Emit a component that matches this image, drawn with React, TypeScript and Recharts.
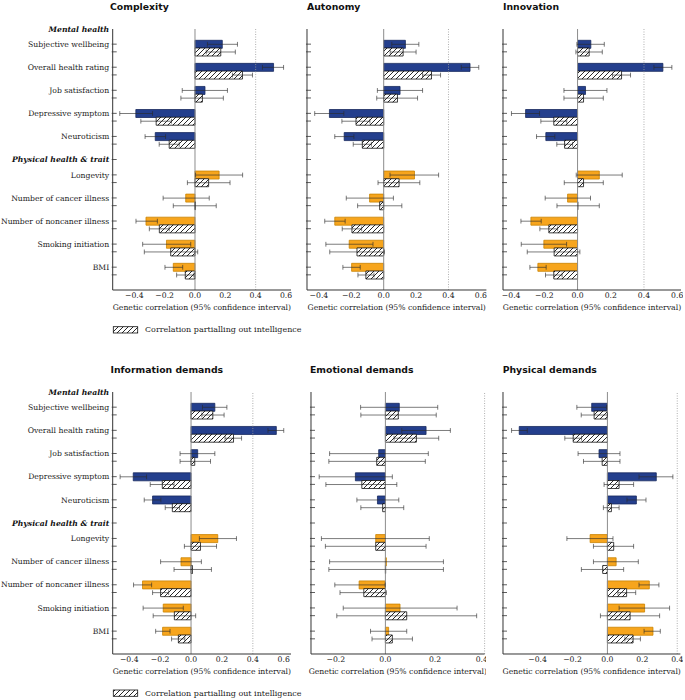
import React from 'react';
import { BarChart, Bar, XAxis, YAxis, Cell, ErrorBar, ReferenceLine } from 'recharts';

const categories = [
  'Subjective wellbeing',
  'Overall health rating',
  'Job satisfaction',
  'Depressive symptom',
  'Neuroticism',
  'Longevity',
  'Number of cancer illness',
  'Number of noncaner illness',
  'Smoking initiation',
  'BMI',
];
const groupHeaders = ['Mental health', 'Physical health & trait'];
const panelTitles = ['Complexity', 'Autonomy', 'Innovation', 'Information demands', 'Emotional demands', 'Physical demands'];
const xLabel = 'Genetic correlation (95% confidence interval)';
const legendLabel = 'Correlation partialling out intelligence';

const ticksWide = [-0.4, -0.2, 0, 0.2, 0.4, 0.6];
const ticksEmotional = [-0.2, 0, 0.2, 0.4];
const ticksPhysical = [-0.4, -0.2, 0, 0.2, 0.4];

// Complexity
const complexityRg = [0.18, 0.518, 0.066, -0.39, -0.262, 0.159, -0.061, -0.323, -0.188, -0.143];
const complexityCI = [[0.082, 0.28], [0.445, 0.584], [-0.084, 0.214], [-0.496, -0.28], [-0.329, -0.194], [0.004, 0.314], [-0.21, 0.094], [-0.389, -0.248], [-0.345, -0.028], [-0.198, -0.081]];
const complexityPartialRg = [0.17, 0.313, 0.049, -0.256, -0.17, 0.09, 0.002, -0.235, -0.16, -0.064];
const complexityPartialCI = [[0.074, 0.266], [0.247, 0.379], [-0.093, 0.187], [-0.357, -0.155], [-0.236, -0.104], [-0.05, 0.231], [-0.143, 0.14], [-0.301, -0.17], [-0.334, 0.018], [-0.121, -0.007]];

// Autonomy
const autonomyRg = [0.134, 0.533, 0.101, -0.335, -0.244, 0.19, -0.087, -0.302, -0.213, -0.198];
const autonomyCI = [[0.05, 0.217], [0.479, 0.587], [-0.039, 0.24], [-0.426, -0.246], [-0.302, -0.184], [0.039, 0.339], [-0.231, 0.06], [-0.364, -0.238], [-0.357, -0.066], [-0.252, -0.145]];
const autonomyPartialRg = [0.12, 0.295, 0.085, -0.171, -0.132, 0.095, -0.025, -0.196, -0.165, -0.11];
const autonomyPartialCI = [[0.04, 0.2], [0.24, 0.351], [-0.043, 0.209], [-0.258, -0.085], [-0.188, -0.076], [-0.035, 0.223], [-0.161, 0.112], [-0.256, -0.136], [-0.333, 0.004], [-0.159, -0.06]];

// Innovation
const innovationRg = [0.08, 0.514, 0.048, -0.313, -0.191, 0.131, -0.06, -0.281, -0.203, -0.239];
const innovationCI = [[-0.004, 0.161], [0.46, 0.568], [-0.082, 0.177], [-0.398, -0.229], [-0.247, -0.137], [-0.008, 0.269], [-0.195, 0.078], [-0.341, -0.219], [-0.339, -0.066], [-0.287, -0.189]];
const innovationPartialRg = [0.07, 0.265, 0.036, -0.143, -0.078, 0.036, 0.002, -0.173, -0.141, -0.143];
const innovationPartialCI = [[-0.01, 0.149], [0.21, 0.319], [-0.082, 0.155], [-0.221, -0.065], [-0.125, -0.03], [-0.08, 0.155], [-0.124, 0.131], [-0.227, -0.12], [-0.303, 0.014], [-0.193, -0.093]];

// Information demands
const informationRg = [0.154, 0.552, 0.043, -0.374, -0.249, 0.173, -0.065, -0.314, -0.18, -0.184];
const informationCI = [[0.074, 0.232], [0.498, 0.6], [-0.071, 0.154], [-0.459, -0.288], [-0.303, -0.195], [0.054, 0.294], [-0.197, 0.067], [-0.372, -0.255], [-0.31, -0.05], [-0.229, -0.136]];
const informationPartialRg = [0.141, 0.275, 0.024, -0.186, -0.121, 0.061, 0.009, -0.197, -0.108, -0.082];
const informationPartialCI = [[0.07, 0.214], [0.22, 0.327], [-0.071, 0.126], [-0.264, -0.11], [-0.167, -0.075], [-0.043, 0.165], [-0.11, 0.132], [-0.249, -0.145], [-0.245, 0.03], [-0.126, -0.04]];

// Emotional demands
const emotionalRg = [0.056, 0.164, -0.027, -0.121, -0.032, -0.039, 0.004, -0.106, 0.059, 0.013];
const emotionalCI = [[-0.1, 0.211], [0.066, 0.262], [-0.225, 0.173], [-0.267, 0.028], [-0.115, 0.054], [-0.258, 0.177], [-0.225, 0.234], [-0.204, -0.001], [-0.17, 0.289], [-0.06, 0.086]];
const emotionalPartialRg = [0.052, 0.125, -0.035, -0.095, -0.011, -0.039, 0.001, -0.087, 0.086, 0.028];
const emotionalPartialCI = [[-0.099, 0.205], [0.035, 0.215], [-0.228, 0.161], [-0.24, 0.046], [-0.099, 0.074], [-0.242, 0.164], [-0.228, 0.234], [-0.183, 0.004], [-0.196, 0.368], [-0.054, 0.109]];

// Physical demands
const physicalRg = [-0.09, -0.505, -0.048, 0.28, 0.166, -0.099, 0.05, 0.24, 0.213, 0.261];
const physicalCI = [[-0.175, -0.005], [-0.549, -0.459], [-0.168, 0.072], [0.181, 0.375], [0.112, 0.221], [-0.232, 0.032], [-0.08, 0.177], [0.181, 0.295], [0.067, 0.356], [0.21, 0.303]];
const physicalPartialRg = [-0.076, -0.196, -0.03, 0.067, 0.023, 0.036, -0.027, 0.11, 0.13, 0.147];
const physicalPartialCI = [[-0.15, 0.0], [-0.244, -0.148], [-0.137, 0.072], [-0.019, 0.15], [-0.023, 0.067], [-0.08, 0.15], [-0.149, 0.093], [0.06, 0.162], [-0.04, 0.299], [0.1, 0.189]];

const SERIF = "'DejaVu Serif', serif";
const SANS = "'DejaVu Sans', sans-serif";
const FS = 7.7;
const TEXT = '#222';
const FRAME = '#333';
const BLUE = '#243f8d';
const BLUE_EDGE = '#18295e';
const ORANGE = '#f7a51d';
const ORANGE_EDGE = '#c98300';

type Row = {
  id: string;
  kind: 'main' | 'partial' | 'gap' | 'header' | 'blank';
  label?: string;
  v?: number | null;
  err?: number[];
  group?: number;
  first?: boolean;
};

function buildRows(rg: number[], ci: number[][], prg: number[], pci: number[][]): Row[] {
  const rows: Row[] = [];
  categories.forEach((c, i) => {
    if (i === 5) {
      rows.push({ id: 'h1', kind: 'header', label: groupHeaders[1], v: null });
      rows.push({ id: 'b1', kind: 'blank', v: null });
    }
    rows.push({
      id: 'm' + i,
      kind: 'main',
      label: c,
      first: i === 0,
      v: rg[i],
      err: [rg[i] - ci[i][0], ci[i][1] - rg[i]],
      group: i < 5 ? 0 : 1,
    });
    rows.push({
      id: 'p' + i,
      kind: 'partial',
      v: prg[i],
      err: [prg[i] - pci[i][0], pci[i][1] - prg[i]],
      group: i < 5 ? 0 : 1,
    });
    if (i !== categories.length - 1) rows.push({ id: 'g' + i, kind: 'gap', v: null });
  });
  return rows;
}

const panels = [
  { title: panelTitles[0], rows: buildRows(complexityRg, complexityCI, complexityPartialRg, complexityPartialCI), ticks: ticksWide, labels: true },
  { title: panelTitles[1], rows: buildRows(autonomyRg, autonomyCI, autonomyPartialRg, autonomyPartialCI), ticks: ticksWide, labels: false },
  { title: panelTitles[2], rows: buildRows(innovationRg, innovationCI, innovationPartialRg, innovationPartialCI), ticks: ticksWide, labels: false },
  { title: panelTitles[3], rows: buildRows(informationRg, informationCI, informationPartialRg, informationPartialCI), ticks: ticksWide, labels: true },
  { title: panelTitles[4], rows: buildRows(emotionalRg, emotionalCI, emotionalPartialRg, emotionalPartialCI), ticks: ticksEmotional, labels: false },
  { title: panelTitles[5], rows: buildRows(physicalRg, physicalCI, physicalPartialRg, physicalPartialCI), ticks: ticksPhysical, labels: false },
];

const frames = [
  { left: 112.7, right: 291, top: 29, bottom: 290, domain: [-0.5425, 0.633], titleX: 110 },
  { left: 307.3, right: 486.7, top: 29, bottom: 290, domain: [-0.4735, 0.634], titleX: 307 },
  { left: 502.7, right: 680.7, top: 29, bottom: 290, domain: [-0.449, 0.623], titleX: 503 },
  { left: 112.7, right: 291, top: 392, bottom: 654, domain: [-0.507, 0.647], titleX: 110.5 },
  { left: 310.7, right: 484.3, top: 392, bottom: 654, domain: [-0.3, 0.4], titleX: 310 },
  { left: 503.3, right: 680.7, top: 392, bottom: 654, domain: [-0.598, 0.418], titleX: 502.7 },
];

const fmt = (v: number) => (v < 0 ? '\u2212' + Math.abs(v).toFixed(1) : v.toFixed(1));

function YTick(props: any) {
  const { x, y, payload, rows, showLabels } = props;
  const row: Row | undefined = rows.find((r: Row) => r.id === payload.value);
  if (!row) return <g />;
  const tickLine = <line x1={x - 1} x2={x + 4} y1={y} y2={y} stroke={FRAME} strokeWidth={0.8} />;
  if (row.kind === 'main') {
    return (
      <g>
        {tickLine}
        {showLabels && (
          <text x={x - 3.5} y={y} dy="0.35em" textAnchor="end" fontFamily={SERIF} fontSize={FS} fill={TEXT}>
            {row.label}
          </text>
        )}
        {showLabels && row.first && (
          <text x={x - 3.5} y={y - 15} dy="0.35em" textAnchor="end" fontFamily={SERIF} fontSize={FS} fontWeight="bold" fontStyle="italic" fill="#111">
            {groupHeaders[0]}
          </text>
        )}
      </g>
    );
  }
  if (row.kind === 'partial') return <g>{tickLine}</g>;
  if (row.kind === 'header') {
    return (
      <g>
        {tickLine}
        {showLabels && (
          <text x={x - 3.5} y={y} dy="0.35em" textAnchor="end" fontFamily={SERIF} fontSize={FS} fontWeight="bold" fontStyle="italic" fill="#111">
            {row.label}
          </text>
        )}
      </g>
    );
  }
  return <g />;
}

function Panel({ p, f }: { p: any; f: any }) {
  const Wy = p.labels ? f.left : 10;
  const MT = 16;
  const MR = 2;
  const XH = 26;
  const plotW = f.right - f.left;
  const plotH = f.bottom - f.top;
  const width = Wy + plotW + MR;
  const height = MT + plotH + XH;
  const rows: Row[] = p.rows;
  return (
    <div style={{ position: 'absolute', left: f.left - Wy, top: f.top - MT, width, height }}>
      <BarChart
        width={width}
        height={height}
        data={rows}
        layout="vertical"
        margin={{ top: MT, right: MR, bottom: 0, left: 0 }}
        barCategoryGap={0}
        barGap={0}
      >
        <XAxis
          type="number"
          domain={f.domain}
          allowDataOverflow
          ticks={p.ticks}
          tickFormatter={fmt}
          tickLine={false}
          tickSize={0}
          tickMargin={3}
          height={XH}
          axisLine={{ stroke: FRAME }}
          tick={{ fontFamily: SERIF, fontSize: FS, fill: TEXT }}
          label={{ value: xLabel, position: 'insideBottom', offset: XH - 20.4, fill: TEXT, fontSize: FS, fontFamily: SERIF }}
        />
        <XAxis
          xAxisId="top"
          orientation="top"
          type="number"
          domain={f.domain}
          allowDataOverflow
          tick={false}
          tickLine={false}
          height={0}
          axisLine={{ stroke: FRAME }}
        />
        <YAxis
          type="category"
          dataKey="id"
          width={Wy}
          interval={0}
          tickLine={false}
          tickSize={0}
          tickMargin={0}
          axisLine={{ stroke: FRAME }}
          padding={{ top: 11.3, bottom: 11.3 }}
          tick={(tp: any) => <YTick {...tp} rows={rows} showLabels={p.labels} />}
        />
        <YAxis
          yAxisId="right"
          orientation="right"
          type="number"
          domain={[0, 1]}
          tick={false}
          tickLine={false}
          width={0}
          axisLine={{ stroke: FRAME }}
        />
        <ReferenceLine x={0.4} stroke="#9a9a9a" strokeWidth={0.8} strokeDasharray="1 1.5" />
        <ReferenceLine x={0} stroke="#8c8c8c" strokeWidth={1} />
        <Bar dataKey="v" isAnimationActive={false}>
          {rows.map((r) => {
            let fill = 'none';
            let stroke = 'none';
            if (r.kind === 'main') {
              fill = r.group === 0 ? BLUE : ORANGE;
              stroke = r.group === 0 ? BLUE_EDGE : ORANGE_EDGE;
            } else if (r.kind === 'partial') {
              fill = 'url(#hatchPattern)';
              stroke = '#111';
            }
            return <Cell key={r.id} fill={fill} stroke={stroke} strokeWidth={0.8} />;
          })}
          <ErrorBar dataKey="err" direction="x" width={2.4} stroke="#2a2a2a" strokeOpacity={0.62} strokeWidth={1} />
        </Bar>
      </BarChart>
    </div>
  );
}

export default function App() {
  return (
    <div style={{ position: 'absolute', left: 0, top: 0, width: 685, height: 700, background: '#fff', overflow: 'hidden' }}>
      <svg width={0} height={0} style={{ position: 'absolute' }}>
        <defs>
          <pattern id="hatchPattern" patternUnits="userSpaceOnUse" width={5} height={5}>
            <rect x={0} y={0} width={5} height={5} fill="#fff" />
            <path d="M-1,1 L1,-1 M0,5 L5,0 M4,6 L6,4" stroke="#111" strokeWidth={0.9} />
          </pattern>
        </defs>
      </svg>
      {panels.map((p, i) => (
        <Panel key={i} p={p} f={frames[i]} />
      ))}
      <svg width={685} height={700} style={{ position: 'absolute', left: 0, top: 0, pointerEvents: 'none' }}>
        {panels.map((p, i) => (
          <text key={i} x={frames[i].titleX} y={frames[i].top - 19.5} fontFamily={SANS} fontWeight="bold" fontSize={9.3} fill="#111">
            {p.title}
          </text>
        ))}
        {[326.7, 690].map((ly, i) => (
          <g key={i}>
            <rect x={113.3} y={ly} width={24.4} height={6.3} fill="url(#hatchPattern)" stroke="#111" strokeWidth={0.8} />
            <text
              x={145}
              y={ly + 5.7}
              fontFamily={SERIF}
              fontSize={8}
              fill={TEXT}
              textLength={156.5}
              lengthAdjust="spacingAndGlyphs"
            >
              {legendLabel}
            </text>
          </g>
        ))}
      </svg>
    </div>
  );
}
